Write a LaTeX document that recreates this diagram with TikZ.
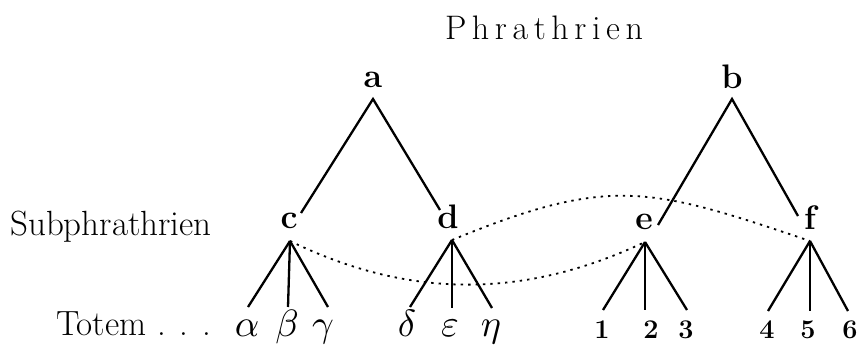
\documentclass[tikz,border=0pt]{standalone}
\usepackage{fontspec}
\newcommand\lsp{\kern5.6pt}
\begin{document}
\begin{tikzpicture}[x=1pt,y=-1pt,
  lbl/.style={inner sep=0pt,anchor=base},
  big/.style={lbl,font=\fontsize{35}{40}\selectfont},
  ttl/.style={lbl,font=\fontsize{34}{40}\selectfont},
  letter/.style={lbl,font=\bfseries\fontsize{34}{38}\selectfont},
  greek/.style={lbl,font=\fontsize{10}{12}\selectfont,scale=3.8},
  digit/.style={lbl,font=\bfseries\fontsize{27}{30}\selectfont},
  solidline/.style={line width=2.3pt},
  dotline/.style={line width=1.8pt,dash pattern=on 2.4pt off 5pt}]
\useasboundingbox[fill=white] (0,0) rectangle (861,345);
% texts
\node[ttl] (title) at (544,40) {P\lsp h\lsp r\lsp a\lsp t\lsp h\lsp r\lsp i\lsp e\lsp n};
\node[letter] (a) at (373,87) {a};
\node[letter] (b) at (732,88) {b};
\node[letter] (c) at (289,228) {c};
\node[letter] (d) at (448,228) {d};
\node[letter] (e) at (644,229) {e};
\node[letter] (f) at (810,229) {f};
\node[big] (sub) at (111,235) {Subphrathrien};
\node[big,anchor=base west] (totem) at (56,335) {Totem . . .};
\node[greek] (al) at (247,336) {$\alpha$};
\node[greek] (be) at (287,336) {$\beta$};
\node[greek] (ga) at (323,336) {$\gamma$};
\node[greek] (de) at (407,336) {$\delta$};
\node[greek] (ep) at (450,336) {$\varepsilon$};
\node[greek] (et) at (491,336) {$\eta$};
\node[digit] (n1) at (602,338) {1};
\node[digit] (n2) at (651,338) {2};
\node[digit] (n3) at (686,338) {3};
\node[digit] (n4) at (767,338) {4};
\node[digit] (n5) at (808,338) {5};
\node[digit] (n6) at (850,338) {6};
% connector points
\coordinate (a-apex) at (373,99);
\coordinate (b-apex) at (732,99);
\coordinate (c-top) at (301,213);
\coordinate (d-top) at (440,210);
\coordinate (e-top) at (658,225);
\coordinate (f-top) at (798,216);
\coordinate (c-apex) at (290,241);
\coordinate (d-apex) at (452,240);
\coordinate (e-apex) at (645,242);
\coordinate (f-apex) at (810,241);
\coordinate (al-top) at (248,307);
\coordinate (be-top) at (288,307);
\coordinate (ga-top) at (328,307);
\coordinate (de-top) at (410,307);
\coordinate (ep-top) at (452,308);
\coordinate (et-top) at (492,308);
\coordinate (n1-top) at (603,310);
\coordinate (n2-top) at (645,310);
\coordinate (n3-top) at (687,310);
\coordinate (n4-top) at (768,311);
\coordinate (n5-top) at (810,311);
\coordinate (n6-top) at (848,311);
% solid lines
\draw[solidline] (c-top) -- (a-apex) -- (d-top);
\draw[solidline] (e-top) -- (b-apex) -- (f-top);
\foreach \p/\k in {c/al,c/be,c/ga,d/de,d/ep,d/et,e/n1,e/n2,e/n3,f/n4,f/n5,f/n6}
  \draw[solidline] (\p-apex) -- (\k-top);
% dotted curves
\draw[dotline] (c-apex) .. controls (407,298) and (522,300) .. (e-apex);
\draw[dotline] (d-apex) .. controls (610,175) and (650,187) .. (f-apex);
\end{tikzpicture}
\end{document}
